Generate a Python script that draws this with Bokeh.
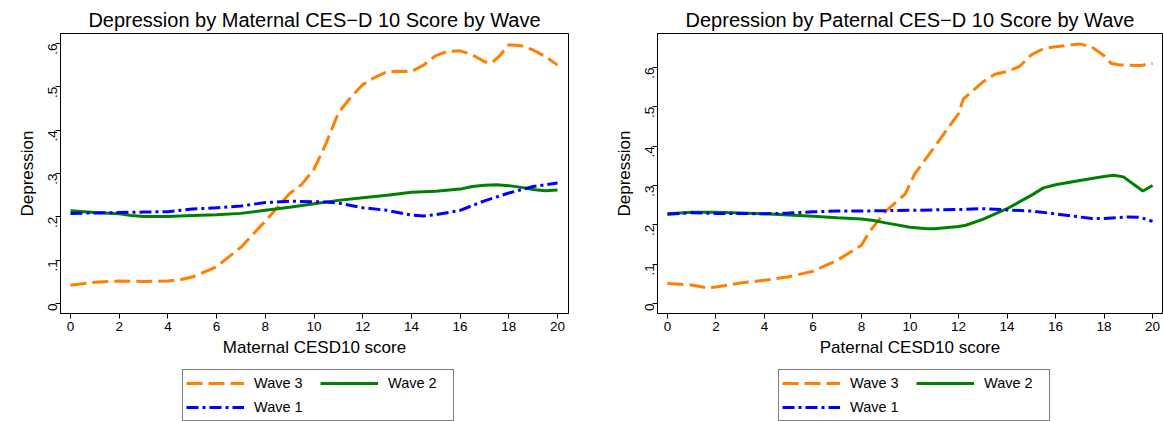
from bokeh.plotting import figure
from bokeh.layouts import row, column
from bokeh.models import Range1d, Legend, LegendItem, FixedTicker
from bokeh.embed import file_html
from bokeh.resources import INLINE
import math

# ---------------- data ----------------
mat_w3_x = [0, 1, 2, 3, 4, 4.5, 5, 6, 7, 8, 9, 9.5, 10, 10.5, 11, 11.5, 12, 12.5, 13, 13.5, 14,
            14.5, 15, 15.5, 16, 16.5, 17, 17.3, 17.6, 18, 18.5, 19, 19.5, 20]
mat_w3_y = [.042, .049, .052, .051, .052, .055, .061, .085, .13, .19, .254, .275, .31, .37, .44, .475,
            .505, .522, .535, .536, .535, .55, .572, .582, .583, .574, .558, .555, .57, .597, .595,
            .585, .57, .55]
mat_w2_x = [0, 1, 2, 2.5, 3, 4, 5, 6, 7, 8, 9, 10, 11, 12, 13, 14, 15, 16, 16.5, 17, 17.5, 18, 18.5,
            19, 19.5, 20]
mat_w2_y = [.214, .21, .207, .203, .201, .201, .203, .205, .208, .215, .222, .23, .238, .244, .25, .257,
            .259, .264, .27, .273, .274, .272, .268, .263, .26, .262]
mat_w1_x = [0, 1, 2, 3, 4, 5, 6, 7, 8, 9, 10, 10.5, 11, 12, 13, 14, 14.5, 15, 16, 17, 18, 19, 20]
mat_w1_y = [.208, .209, .21, .211, .212, .218, .221, .225, .233, .236, .235, .234, .232, .221, .215,
            .204, .202, .205, .215, .237, .255, .27, .278]

pat_w3_x = [0, 1, 1.6, 2, 3, 4, 5, 6, 7, 8, 8.3, 9, 9.8, 10.2, 11, 12, 12.2, 13, 13.5, 14, 14.5, 15,
            15.5, 16, 17, 17.5, 18, 18.3, 18.6, 19, 19.5, 20]
pat_w3_y = [.051, .047, .04, .042, .052, .059, .068, .082, .11, .148, .18, .235, .278, .33, .397, .483,
            .52, .563, .583, .59, .602, .632, .648, .653, .66, .652, .63, .61, .607, .606, .605, .61]
pat_w2_x = [0, 1, 2, 3, 4, 5, 6, 7, 8, 8.5, 9, 10, 10.7, 11, 12, 12.3, 13, 14, 15, 15.5, 16, 17, 18,
            18.4, 18.8, 19.6, 20]
pat_w2_y = [.228, .232, .232, .23, .228, .225, .222, .218, .215, .211, .205, .194, .19, .19, .196, .199,
            .214, .241, .275, .294, .302, .313, .323, .326, .322, .286, .30]
pat_w1_x = [0, 1, 2, 3, 4, 5, 6, 7, 8, 9, 10, 11, 12, 13, 14, 15, 16, 17, 17.5, 18, 19, 19.5, 20]
pat_w1_y = [.227, .231, .229, .229, .228, .23, .233, .235, .235, .236, .237, .238, .239, .241, .238,
            .235, .228, .22, .216, .216, .22, .219, .209]

x_ticks = [0, 2, 4, 6, 8, 10, 12, 14, 16, 18, 20]
y_ticks = [0, .1, .2, .3, .4, .5, .6]
y_tick_labels = ["0", ".1", ".2", ".3", ".4", ".5", ".6"]
wave_labels = ["Wave 3", "Wave 2", "Wave 1"]

FONT = "Liberation Sans"
ORANGE = "#FF8000"
GREEN = "#008000"
BLUE = "#0000FF"
STYLES = [dict(line_color=ORANGE, line_width=3, line_dash="16 6"),
          dict(line_color=GREEN, line_width=3),
          dict(line_color=BLUE, line_width=3, line_dash="12 4 3 4")]


def make_panel(title, xlabel, series, x_range, y_range, frame_w, border_left, border_right):
    p = figure(frame_width=frame_w, frame_height=280, output_backend="svg", toolbar_location=None,
               x_range=Range1d(*x_range), y_range=Range1d(*y_range),
               min_border_left=border_left, min_border_right=border_right,
               min_border_top=33, min_border_bottom=53)
    p.title.text = title
    p.title.align = "center"
    p.title.text_font = FONT
    p.title.text_font_size = "20px"
    p.title.text_font_style = "normal"
    p.title.text_color = "black"
    p.title.standoff = 6
    p.grid.visible = False
    p.outline_line_color = "black"
    p.outline_line_width = 1
    p.outline_line_alpha = 1
    p.background_fill_color = "white"
    p.border_fill_color = "white"

    p.xaxis.ticker = FixedTicker(ticks=x_ticks)
    p.yaxis.ticker = FixedTicker(ticks=y_ticks)
    p.yaxis.major_label_overrides = {t: l for t, l in zip(y_ticks, y_tick_labels)}
    p.yaxis.major_label_orientation = math.pi / 2
    p.xaxis.axis_label = xlabel
    p.yaxis.axis_label = "Depression"
    for ax in (p.xaxis, p.yaxis):
        ax.axis_label_text_font = FONT
        ax.axis_label_text_font_size = "17px"
        ax.axis_label_text_font_style = "normal"
        ax.axis_label_text_color = "black"
        ax.axis_label_standoff = 4
        ax.major_label_text_font = FONT
        ax.major_label_text_font_size = "13.5px"
        ax.major_label_text_color = "black"
        ax.major_label_standoff = 3
        ax.axis_line_color = "black"
        ax.major_tick_line_color = "black"
        ax.major_tick_out = 5
        ax.major_tick_in = 0
        ax.minor_tick_line_color = None

    for (xs, ys), st in zip(series, STYLES):
        p.line(xs, ys, **st)
    return p


def make_legend_fig(width, box_x):
    # a strip below each panel that only carries the legend box
    q = figure(width=width, height=55, output_backend="svg", toolbar_location=None,
               x_axis_location=None, y_axis_location=None,
               min_border_left=0, min_border_right=0, min_border_top=0, min_border_bottom=0,
               x_range=Range1d(1, 2), y_range=Range1d(1, 2))
    q.grid.visible = False
    q.outline_line_color = None
    q.background_fill_color = "white"
    q.border_fill_color = "white"
    # one-point (invisible) line renderers that only supply the legend's line styles
    rs = [q.line(x=[0], y=[0], **st) for st in STYLES]
    r3, r2, r1 = rs
    # column-first filling: col 1 = Wave 3, Wave 1 ; col 2 = Wave 2
    legend = Legend(items=[LegendItem(label=wave_labels[0], renderers=[r3]),
                           LegendItem(label=wave_labels[2], renderers=[r1]),
                           LegendItem(label=wave_labels[1], renderers=[r2])],
                    orientation="vertical", nrows=2, location=(box_x, 0),
                    glyph_width=58, glyph_height=20, label_width=62, label_height=20,
                    label_standoff=10, spacing=4, padding=3, margin=0,
                    label_text_font=FONT, label_text_font_size="14.5px",
                    label_text_color="black",
                    border_line_color="black", border_line_width=1,
                    background_fill_color="white", background_fill_alpha=1)
    q.add_layout(legend, "center")
    return q


left = make_panel("Depression by Maternal CES\u2212D 10 Score by Wave", "Maternal CESD10 score",
                  [(mat_w3_x, mat_w3_y), (mat_w2_x, mat_w2_y), (mat_w1_x, mat_w1_y)],
                  (-0.41, 20.45), (-0.023, 0.623), 508, 60, 32)
right = make_panel("Depression by Paternal CES\u2212D 10 Score by Wave", "Paternal CESD10 score",
                   [(pat_w3_x, pat_w3_y), (pat_w2_x, pat_w2_y), (pat_w1_x, pat_w1_y)],
                   (-0.41, 20.41), (-0.0254, 0.6865), 505, 57, 1)
leg_left = make_legend_fig(600, 182)
leg_right = make_legend_fig(563, 178)

layout = column(row(left, right, spacing=0), row(leg_left, leg_right, spacing=0), spacing=0)
open("out.html", "w").write(file_html(layout, INLINE))
